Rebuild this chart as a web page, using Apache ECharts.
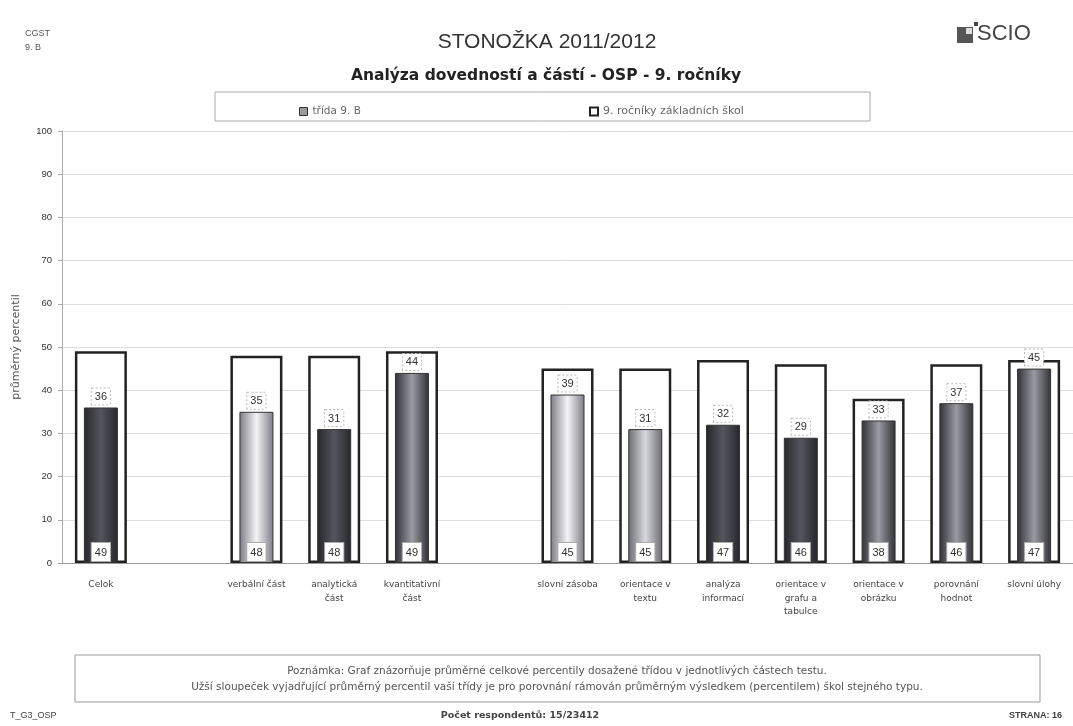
<!DOCTYPE html>
<html>
<head>
<meta charset="utf-8">
<script src="https://cdn.jsdelivr.net/npm/echarts@6/dist/echarts.min.js"></script>
<style>html,body{margin:0;padding:0;background:#fff;}#c{width:1073px;height:726px;}</style>
</head>
<body>
<div id="c"></div>
<script>
// ---- data ----
const categories = ['Celok', '', 'verbální část', 'analytická\nčást', 'kvantitativní\nčást', '',
  'slovní zásoba', 'orientace v\ntextu', 'analýza\ninformací', 'orientace v\ngrafu a\ntabulce',
  'orientace v\nobrázku', 'porovnání\nhodnot', 'slovní úlohy'];
const classValues  = [36, null, 35, 31, 44, null, 39, 31, 32, 29, 33, 37, 45];   // třída 9. B
const schoolValues = [49, null, 48, 48, 49, null, 45, 45, 47, 46, 38, 46, 47];   // 9. ročníky základních škol
const yTicks = [0, 10, 20, 30, 40, 50, 60, 70, 80, 90, 100];
const seriesNames = ['třída 9. B', '9. ročníky základních škol'];

// ---- styling ----
function grad(edge, mid) {
  return new echarts.graphic.LinearGradient(0, 0, 1, 0, [
    {offset: 0, color: edge}, {offset: 0.5, color: mid}, {offset: 1, color: edge}
  ]);
}
const shade = {
  dark:   () => grad('#26262c', '#55555d'),
  light:  () => grad('#7c7c84', '#f4f4f8'),
  lmed:   () => grad('#6a6a72', '#d8d8de'),
  medium: () => grad('#303036', '#9a9aa2')
};
const shadeOf = ['dark', null, 'light', 'dark', 'medium', null, 'light', 'lmed', 'dark', 'dark', 'medium', 'medium', 'medium'];

const chart = echarts.init(document.getElementById('c'), null, {renderer: 'canvas'});
const FF = '"Liberation Sans", Arial, sans-serif';
const FW = '"DejaVu Sans", sans-serif';

const innerData = classValues.map((v, i) => v == null ? '-' : {
  value: v, itemStyle: {color: shade[shadeOf[i]]()}
});

chart.setOption({
  backgroundColor: '#ffffff',
  textStyle: {fontFamily: FF},
  title: [
    {text: 'STONOŽKA 2011/2012', left: 542, top: 27, textAlign: 'center',
      textStyle: {fontSize: 21, fontWeight: 'normal', color: '#333', fontFamily: FF}},
    {text: 'Analýza dovedností a částí - OSP - 9. ročníky', left: 541, top: 63, textAlign: 'center',
      textStyle: {fontSize: 15.5, fontWeight: 'bold', color: '#222', fontFamily: FW}}
  ],
  legend: [
    {data: [{name: seriesNames[0], itemStyle: {color: '#9a9aa0', borderColor: '#333', borderWidth: 1}}],
      left: 294, top: 101, icon: 'rect', itemWidth: 8, itemHeight: 8, itemGap: 3, selectedMode: false,
      textStyle: {fontSize: 10.5, color: '#666', fontFamily: FW}},
    {data: [{name: seriesNames[1], itemStyle: {color: '#ffffff', borderColor: '#222', borderWidth: 2}}],
      left: 584, top: 101, icon: 'rect', itemWidth: 8, itemHeight: 8, itemGap: 3, selectedMode: false,
      textStyle: {fontSize: 11, color: '#666', fontFamily: FW}}
  ],
  grid: {left: 62, right: 0, top: 131, bottom: 163},
  xAxis: [
    {type: 'category', data: categories, axisTick: {show: false},
      axisLine: {lineStyle: {color: '#999'}},
      axisLabel: {interval: 0, fontSize: 9, color: '#444', lineHeight: 13.5, margin: 15, fontFamily: FW}},
    {type: 'category', data: categories, show: false, position: 'bottom'}
  ],
  yAxis: {
    type: 'value', min: yTicks[0], max: yTicks[yTicks.length - 1], interval: 10,
    name: 'průměrný percentil', nameLocation: 'middle', nameGap: 40, nameRotate: 90,
    nameTextStyle: {fontSize: 11, color: '#555', fontFamily: FW},
    axisLine: {show: true, lineStyle: {color: '#aaa'}},
    axisTick: {show: true, length: 4, lineStyle: {color: '#aaa'}},
    axisLabel: {fontSize: 9.5, color: '#333', margin: 10, fontFamily: FF},
    splitLine: {lineStyle: {color: '#dedede'}}
  },
  series: [
    {name: seriesNames[1], type: 'bar', xAxisIndex: 1, barWidth: 52, z: 1,
      data: schoolValues.map(v => v == null ? '-' : v),
      itemStyle: {color: '#ffffff', borderColor: '#222', borderWidth: 2.5},
      label: {show: false}},
    {name: seriesNames[0], type: 'bar', xAxisIndex: 0, barWidth: 34, z: 3,
      data: innerData,
      itemStyle: {borderColor: '#333', borderWidth: 1},
      label: {show: true, position: 'top', distance: 3, fontSize: 11, color: '#333',
        backgroundColor: '#fff', borderColor: '#bbb', borderWidth: 1, borderType: 'dotted',
        padding: [3, 3, 2, 3], fontFamily: FF}},
    {name: 'labels', type: 'bar', xAxisIndex: 1, barWidth: 52, barGap: '-100%', z: 5,
      data: schoolValues.map(v => v == null ? '-' : v),
      itemStyle: {color: 'rgba(0,0,0,0)'}, silent: true,
      label: {show: true, position: 'insideBottom', distance: 2, fontSize: 11, color: '#333',
        backgroundColor: '#fff', borderColor: '#aaa', borderWidth: 1,
        padding: [4, 3, 3, 3], fontFamily: FF}}
  ],
  graphic: [
    {type: 'text', left: 25, top: 27, style: {text: 'CGST\n9. B', fontSize: 9, lineHeight: 14, fill: '#555', fontFamily: FF}},
    {type: 'rect', shape: {x: 957, y: 27, width: 16, height: 16}, style: {fill: '#555'}},
    {type: 'rect', shape: {x: 966, y: 28, width: 6, height: 6}, style: {fill: '#ddd'}},
    {type: 'rect', shape: {x: 974, y: 22, width: 4, height: 4}, style: {fill: '#444'}},
    {type: 'text', left: 977, top: 23, style: {text: 'SCIO', fontSize: 22, fill: '#444', fontFamily: FF}},
    {type: 'rect', shape: {x: 215, y: 92, width: 655, height: 29}, style: {fill: 'none', stroke: '#aaa', lineWidth: 1}},
    {type: 'rect', shape: {x: 75, y: 655, width: 965, height: 47}, style: {fill: 'none', stroke: '#999', lineWidth: 1}},
    {type: 'text', x: 557, y: 663, style: {text: 'Poznámka: Graf znázorňuje průměrné celkové percentily dosažené třídou v jednotlivých částech testu.\nUžší sloupeček vyjadřující průměrný percentil vaší třídy je pro porovnání rámován průměrným výsledkem (percentilem) škol stejného typu.',
      fontSize: 10.5, lineHeight: 16, fill: '#555', align: 'center', fontFamily: FW}},
    {type: 'text', x: 10, y: 711, style: {text: 'T_G3_OSP', fontSize: 9, fill: '#444', fontFamily: FF}},
    {type: 'text', x: 520, y: 711, style: {text: 'Počet respondentů: 15/23412', fontSize: 9.5, fontWeight: 'bold', fill: '#444', align: 'center', fontFamily: FW}},
    {type: 'text', x: 1062, y: 711, style: {text: 'STRANA: 16', fontSize: 9, fontWeight: 'bold', fill: '#444', align: 'right', fontFamily: FF}}
  ]
});
</script>
</body>
</html>
